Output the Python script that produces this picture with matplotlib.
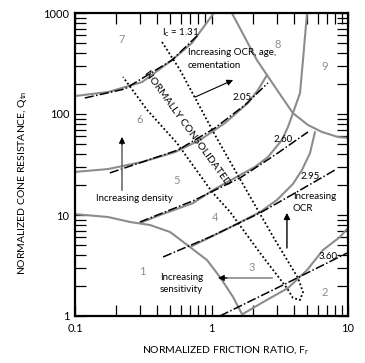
import matplotlib
matplotlib.use('Agg')
import matplotlib.pyplot as plt
from matplotlib.ticker import FixedLocator, FixedFormatter, NullFormatter, LogLocator

plt.rcParams['font.family'] = ['Lato', 'DejaVu Sans']
plt.rcParams['mathtext.default'] = 'regular'

# --- zone boundaries (Robertson 1990): F_r (%), Q_tn
b76_f = [0.1, 0.1746, 0.310, 0.514, 0.719, 1.04]
b76_q = [150.7, 165, 207, 342, 505, 1000]

b65_f = [0.1, 0.1746, 0.310, 0.541, 0.824, 1.256, 1.85, 2.19, 2.55]
b65_q = [26.7, 28.5, 33.5, 42.0, 55.3, 81.5, 128.5, 173, 243]

b8_f = [1.41, 2.15, 2.55, 3.28, 3.95, 5.09, 6.45, 8.46, 10]
b8_q = [1000, 342, 243, 147, 102, 77.8, 66.4, 59.2, 57.9]

b89_f = [5.01, 4.68, 4.45, 3.95, 3.63, 3.28, 2.59, 2.08, 1.62, 1.03, 0.731, 0.420, 0.299]
b89_q = [1000, 342, 161, 102, 74.3, 55.3, 37.5, 29.9, 24.9, 17.7, 13.1, 10.0, 8.33]

b43_f = [0.695, 1.256, 2.27, 3.02, 3.95, 4.60, 5.27, 5.73]
b43_q = [4.82, 7.1, 10.7, 14.1, 20.3, 27.9, 41.1, 66.4]

b1_f = [0.1, 0.1746, 0.253, 0.354, 0.497, 0.695, 0.927, 1.153, 1.44, 1.70]
b1_q = [10.2, 9.55, 8.53, 7.96, 6.79, 4.82, 3.58, 2.43, 1.54, 1.0]

b32_f = [1.70, 2.47, 3.63, 5.01, 6.56, 8.73, 10]
b32_q = [1.05, 1.41, 1.89, 2.85, 4.5, 6.06, 7.43]

# --- Ic contours
ic131_f = [0.118, 0.232, 0.514, 0.796]
ic131_q = [144, 177, 342, 606]
ic205_f = [0.180, 0.569, 1.06, 1.76, 2.59]
ic205_q = [26.1, 44, 72.7, 123, 203]
ic260_f = [0.299, 0.731, 1.62, 2.92, 5.09]
ic260_q = [8.53, 13.8, 23.3, 39.3, 66.4]
ic295_f = [0.442, 0.975, 2.27, 4.09, 8.03]
ic295_q = [3.84, 6.06, 10.5, 16.5, 27.9]
ic360_f = [1.153, 3.45, 9.84]
ic360_q = [1.0, 2.07, 4.2]

# --- normally consolidated band (dotted loop)
nc_f = [0.434, 0.588, 0.824, 1.06, 1.85, 2.92, 4.30, 4.68, 4.45, 3.95, 3.57,
        2.27, 1.37, 1.01, 0.558, 0.337, 0.225]
nc_q = [516, 273, 117, 62, 16.5, 5.66, 2.38, 1.73, 1.44, 1.51, 1.89,
        4.2, 10.7, 16.9, 51.6, 110, 232]

x_ticks = [0.1, 1, 10]
x_labels = ['0.1', '1', '10']
y_ticks = [1, 10, 100, 1000]
y_labels = ['1', '10', '100', '1000']

gray = '#8c8c8c'
dashdot = (0, (6, 1.5, 1, 1.5))

fig = plt.figure(figsize=(3.65, 3.63), dpi=100)
ax = fig.add_axes([75 / 365, 1 - 316 / 363, 273 / 365, 303 / 363])
ax.set_xscale('log')
ax.set_yscale('log')
ax.set_xlim(0.1, 10)
ax.set_ylim(1, 1000)

for f, q in [(b76_f, b76_q), (b65_f, b65_q), (b8_f, b8_q), (b89_f, b89_q),
             (b43_f, b43_q), (b1_f, b1_q), (b32_f, b32_q)]:
    ax.plot(f, q, color=gray, lw=1.5, solid_capstyle='round')

for f, q in [(ic131_f, ic131_q), (ic205_f, ic205_q), (ic260_f, ic260_q),
             (ic295_f, ic295_q), (ic360_f, ic360_q)]:
    ax.plot(f, q, color='black', lw=1.1, ls=dashdot)

ax.plot(nc_f, nc_q, color='black', lw=1.3, ls=(0, (1, 1.3)))

# Ic labels
fs = 7
ax.text(0.598, 634, 'I$_c$ = 1.31', fontsize=fs, ha='center', va='center')
ax.text(1.67, 147, '2.05', fontsize=fs, ha='center', va='center')
ax.text(3.34, 55.3, '2.60', fontsize=fs, ha='center', va='center')
ax.text(5.27, 24.3, '2.95', fontsize=fs, ha='center', va='center')
ax.text(7.13, 3.84, '3.60', fontsize=fs, ha='center', va='center')

ax.text(0.662, 72.7, 'NORMALLY CONSOLIDATED', fontsize=7.5, rotation=-54,
        ha='center', va='center')

# zone numbers
zones = {'1': (0.310, 2.73), '2': (6.8, 1.69), '3': (1.98, 2.99),
         '4': (1.06, 9.55), '5': (0.558, 22.2), '6': (0.299, 87.3),
         '7': (0.221, 541), '8': (3.07, 493), '9': (6.8, 292)}
for k, (zx, zy) in zones.items():
    ax.text(zx, zy, k, fontsize=8, color=gray, ha='center', va='center')

# annotations
ax.text(0.673, 402, 'Increasing OCR, age,', fontsize=fs, ha='left', va='center')
ax.text(0.673, 299, 'cementation', fontsize=fs, ha='left', va='center')
ax.annotate('', xy=(1.44, 217), xytext=(0.757, 147),
            arrowprops=dict(arrowstyle='-|>', color='black', lw=0.8,
                            mutation_scale=9, shrinkA=0, shrinkB=0))

ax.text(0.270, 14.7, 'Increasing density', fontsize=fs, ha='center', va='center')
ax.plot([0.221, 0.221], [17.7, 56], color='#6e6e6e', lw=1.2)
ax.annotate('', xy=(0.221, 59.2), xytext=(0.221, 50),
            arrowprops=dict(arrowstyle='-|>', color='black', lw=0.8,
                            mutation_scale=9, shrinkA=0, shrinkB=0))

ax.text(3.95, 15.1, 'Increasing', fontsize=fs, ha='left', va='center')
ax.text(3.95, 11.5, 'OCR', fontsize=fs, ha='left', va='center')
ax.annotate('', xy=(3.57, 10.5), xytext=(3.57, 4.71),
            arrowprops=dict(arrowstyle='-|>', color='black', lw=1.0,
                            mutation_scale=9, shrinkA=0, shrinkB=0))

ax.text(0.420, 2.43, 'Increasing', fontsize=fs, ha='left', va='center')
ax.text(0.420, 1.85, 'sensitivity', fontsize=fs, ha='left', va='center')
ax.plot([2.77, 1.18], [2.38, 2.38], color=gray, lw=1.2)
ax.annotate('', xy=(1.116, 2.38), xytext=(1.3, 2.38),
            arrowprops=dict(arrowstyle='-|>', color='black', lw=0.8,
                            mutation_scale=9, shrinkA=0, shrinkB=0))

# axes styling
for s in ax.spines.values():
    s.set_linewidth(1.6)
ax.xaxis.set_major_locator(FixedLocator(x_ticks))
ax.xaxis.set_major_formatter(FixedFormatter(x_labels))
ax.yaxis.set_major_locator(FixedLocator(y_ticks))
ax.yaxis.set_major_formatter(FixedFormatter(y_labels))
ax.xaxis.set_minor_locator(LogLocator(base=10, subs=range(2, 10)))
ax.yaxis.set_minor_locator(LogLocator(base=10, subs=range(2, 10)))
ax.xaxis.set_minor_formatter(NullFormatter())
ax.yaxis.set_minor_formatter(NullFormatter())
ax.tick_params(which='both', direction='in', top=True, right=True,
               length=8, width=0.9, labelsize=8)
ax.tick_params(axis='x', pad=5)
ax.tick_params(axis='y', pad=4)

fig.text(225 / 365, 1 - 350 / 363, 'NORMALIZED FRICTION RATIO, F$_r$',
         fontsize=7.5, ha='center', va='center')
fig.text(23 / 365, 1 - 183 / 363, 'NORMALIZED CONE RESISTANCE, Q$_{tn}$',
         fontsize=7.5, ha='center', va='center', rotation=90)

fig.savefig('out.png', dpi=100)
